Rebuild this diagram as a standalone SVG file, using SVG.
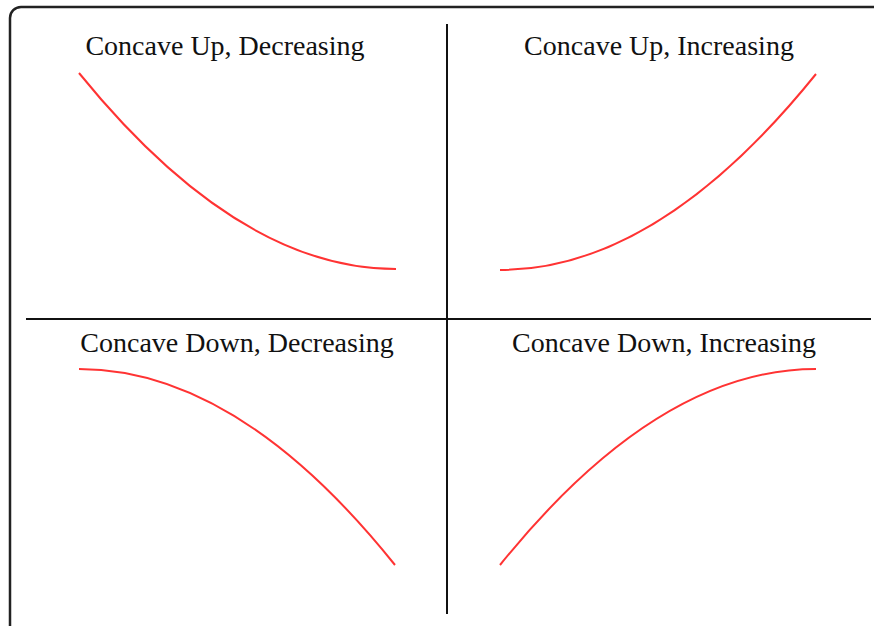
<svg xmlns="http://www.w3.org/2000/svg" width="874" height="626" viewBox="0 0 874 626">
<style>
.lbl{font-family:"Liberation Serif","Times New Roman",serif;font-size:28px;fill:#111;text-anchor:middle}
.crv{fill:none;stroke:#ff3333;stroke-width:2}
.ax{stroke:#111;stroke-width:2;fill:none}
</style>
<rect x="10" y="7" width="880" height="640" rx="11" ry="11" fill="#fff" stroke="#222" stroke-width="2.5"/>
<g id="connectors">
<line class="ax" x1="447" y1="24" x2="447" y2="614"/>
<line class="ax" x1="26" y1="319" x2="871" y2="319"/>
</g>
<g id="q1">
<text class="lbl" x="225" y="55">Concave Up, Decreasing</text>
<path class="crv" d="M79,73 Q238,269 396,269"/>
</g>
<g id="q2">
<text class="lbl" x="659" y="55">Concave Up, Increasing</text>
<path class="crv" d="M500,270 Q658,270 816,74"/>
</g>
<g id="q3">
<text class="lbl" x="237" y="352">Concave Down, Decreasing</text>
<path class="crv" d="M79,369 Q238,369 395,565"/>
</g>
<g id="q4">
<text class="lbl" x="664" y="352">Concave Down, Increasing</text>
<path class="crv" d="M500,565 Q658,369 816,369"/>
</g>
</svg>
